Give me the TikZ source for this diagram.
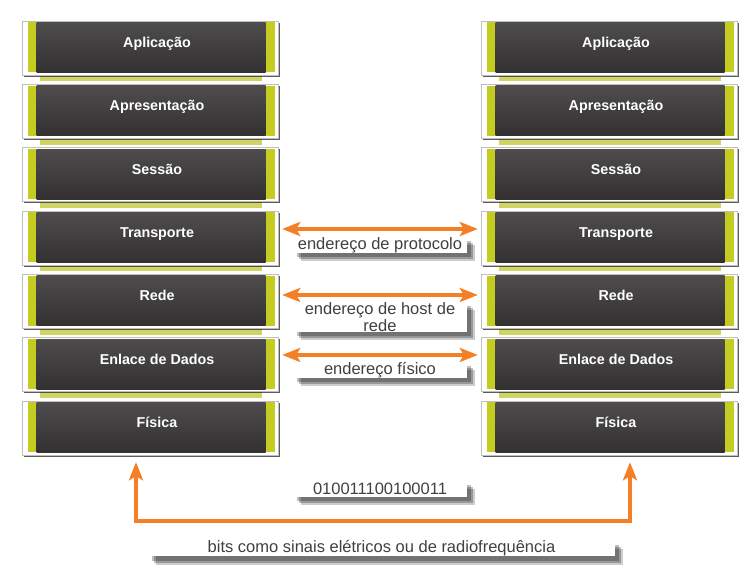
\documentclass[tikz,border=0pt]{standalone}
\usepackage{fontspec}
\setmainfont{Liberation Sans}
\usetikzlibrary{arrows.meta,shadows,backgrounds}
\definecolor{layerlime}{RGB}{196,204,34}
\definecolor{shelflime}{RGB}{208,212,100}
\definecolor{layertop}{RGB}{78,76,77}
\definecolor{layerbot}{RGB}{50,48,49}
\definecolor{linkorange}{RGB}{244,127,36}
\definecolor{tagtext}{RGB}{64,64,64}
\tikzset{
  layer/.style={rectangle, fill=white, draw=black!25, line width=0.4pt,
    minimum width=256pt, minimum height=54pt, inner sep=0pt,
    drop shadow={shadow xshift=1.5pt, shadow yshift=-1.8pt, opacity=0.8, fill=black!80},
    path picture={
      \fill[layerlime] ([shift={(5.5pt,-1.5pt)}]path picture bounding box.north west)
        rectangle ([shift={(-3.5pt,2.5pt)}]path picture bounding box.south east);
      \shade[top color=layertop, bottom color=layerbot]
        ([shift={(14.5pt,-1.5pt)}]path picture bounding box.north west)
        rectangle ([shift={(-12.5pt,2.5pt)}]path picture bounding box.south east);
    }},
  layername/.style={text=white, font=\fontsize{14.3}{16}\selectfont\bfseries,
    text height=10pt, text depth=3pt, inner sep=0pt, xshift=7pt, yshift=4pt},
  linkarrow/.style={draw=linkorange, line width=3.8pt,
    {Stealth[length=18pt,width=14pt,inset=4pt]}-{Stealth[length=18pt,width=14pt,inset=4pt]}},
  tag/.style={fill=white, font=\fontsize{16.5}{15}\selectfont, text=tagtext,
    inner sep=0pt, minimum width=174pt, minimum height=16pt,
    drop shadow={shadow xshift=3.5pt, shadow yshift=-4.5pt, opacity=0.25, fill=black},
    drop shadow={shadow xshift=5.5pt, shadow yshift=-6.5pt, opacity=0.25, fill=black},
    drop shadow={shadow xshift=7.5pt, shadow yshift=-8.5pt, opacity=0.2, fill=black}}
}
\begin{document}
\begin{tikzpicture}[x=1pt,y=-1pt]
\useasboundingbox (0,0) rectangle (756,572);
% the two stacks
\foreach \name [count=\i] in {Aplicação,Apresentação,Sessão,Transporte,Rede,Enlace de Dados,Física} {
  \node[layer, label={[layername]center:\name}] (L\i) at (150,{48+63.33*(\i-1)}) {};
  \node[layer, label={[layername]center:\name}] (R\i) at (609,{48+63.33*(\i-1)}) {};
}
% shelves under the layers
\begin{scope}[on background layer]
\fill[white] (0,0) rectangle (756,572);
\foreach \i in {1,...,6} {
  \fill[shelflime] ([xshift=-110pt]L\i.south) rectangle ([shift={(112pt,-6pt)}]L\i.south);
  \fill[shelflime] ([xshift=-110pt]R\i.south) rectangle ([shift={(112pt,-6pt)}]R\i.south);
}
\end{scope}
% peer links
\draw[linkarrow] ([shift={(4pt,9pt)}]L4.east) -- ([shift={(-3pt,9pt)}]R4.west);
\draw[linkarrow] ([shift={(4pt,6.3pt)}]L5.east) -- ([shift={(-3pt,6.3pt)}]R5.west);
\draw[linkarrow] ([shift={(4pt,9.7pt)}]L6.east) -- ([shift={(-3pt,9.7pt)}]R6.west);
\node[tag] (proto) at (380,245) {endereço de protocolo};
\node[tag, minimum height=30pt, align=center] (host) at (380,317) {endereço de host de\\rede};
\node[tag] (phys) at (380,370) {endereço físico};
% medium
\coordinate (bus) at (380,521);
\draw[linkarrow] ([shift={(-14pt,-7pt)}]L7.south) |- (bus) -| ([shift={(21pt,-7pt)}]R7.south);
\node[tag] (bitstr) at (380,488.5) {010011100100011};
\node[tag, minimum width=467pt] (signal) at (381.5,548) {bits como sinais elétricos ou de radiofrequência};
\end{tikzpicture}
\end{document}
